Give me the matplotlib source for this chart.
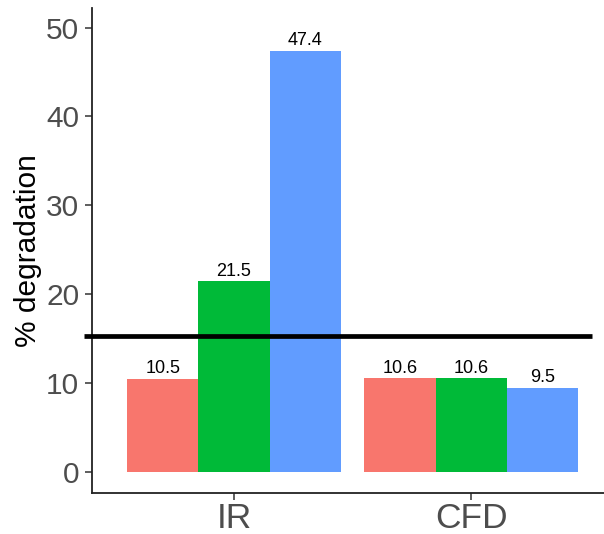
import matplotlib
matplotlib.use("Agg")
import matplotlib.pyplot as plt
import numpy as np

categories = ["IR", "CFD"]
series_a = [10.5, 10.6]
series_b = [21.5, 10.6]
series_c = [47.4, 9.5]
labels_a = ["10.5", "10.6"]
labels_b = ["21.5", "10.6"]
labels_c = ["47.4", "9.5"]
hline_value = 15.3
yticks = [0, 10, 20, 30, 40, 50]

colors = ["#F8766D", "#00BA38", "#619CFF"]
plt.rcParams['font.family'] = ['Liberation Sans', 'DejaVu Sans']

W, H = 604, 534
fig = plt.figure(figsize=(W / 100, H / 100), dpi=100)
left, right, top, bottom = 91.7, 604, 8, 493.3
ax = fig.add_axes([left / W, 1 - bottom / H, (right - left) / W, (bottom - top) / H])

x = np.arange(1, len(categories) + 1)
bw = 0.3
for i, (vals, labs) in enumerate([(series_a, labels_a), (series_b, labels_b), (series_c, labels_c)]):
    xs = x + (i - 1) * bw
    ax.bar(xs, vals, width=bw, color=colors[i], edgecolor='none', zorder=2)
    for xx, v, l in zip(xs, vals, labs):
        ax.annotate(l, (xx, v), xytext=(0, 1.0), textcoords='offset points',
                    ha='center', va='bottom', fontsize=13, color='black', zorder=3)

ax.plot([0.368, 2.508], [hline_value, hline_value], color='black', lw=3.4,
        clip_on=False, zorder=4, solid_capstyle='butt')

ax.set_xlim(0.4, 2.56)
ax.set_ylim(-2.37, 52.2)
ax.set_xticks(x)
ax.set_xticklabels(categories, fontsize=25.5, color='#4D4D4D')
ax.set_yticks(yticks)
ax.set_yticklabels([str(t) for t in yticks], fontsize=21.5, color='#4D4D4D')
ax.tick_params(axis='both', length=5, width=1.1, color='#333333', pad=4)
ax.tick_params(axis='x', pad=1.5)
ax.set_ylabel("% degradation", fontsize=21.5, color='black', labelpad=3)

for s in ['top', 'right']:
    ax.spines[s].set_visible(False)
for s in ['left', 'bottom']:
    ax.spines[s].set_linewidth(1.3)
    ax.spines[s].set_color('#222222')

fig.savefig("out.png", dpi=100)
